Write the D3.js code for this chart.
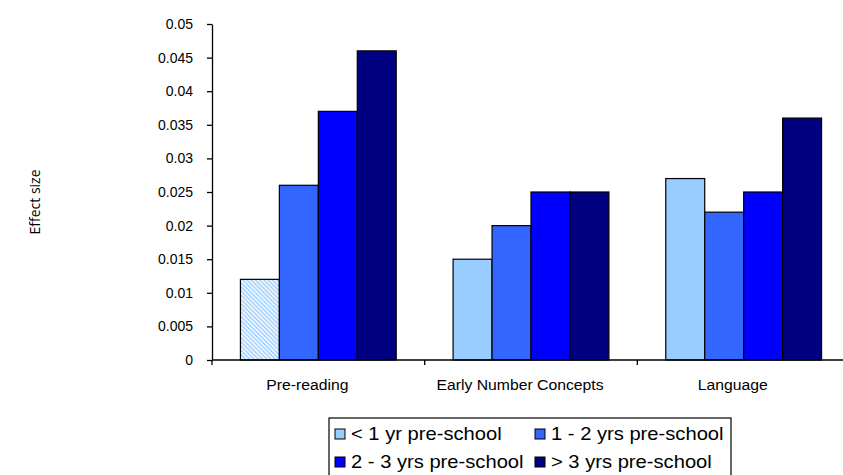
<!DOCTYPE html>
<html>
<head>
<meta charset="utf-8">
<script src="https://cdn.jsdelivr.net/npm/d3@7"></script>
<style>
  body { margin: 0; background: #fff; }
  svg { display: block; }
</style>
</head>
<body>
<script>
const categories = ["Pre-reading", "Early Number Concepts", "Language"];
const series = ["< 1 yr pre-school", "1 - 2 yrs pre-school", "2 - 3 yrs pre-school", "> 3 yrs pre-school"];
const colors = ["#99ccff", "#3366ff", "#0000ff", "#000080"];
// one row per category, one value per series
const values = [
  [0.012, 0.026, 0.037, 0.046],
  [0.015, 0.020, 0.025, 0.025],
  [0.027, 0.022, 0.025, 0.036]
];
// hatched bar (drawn with stripes instead of solid fill)
const hatched = [
  [true, false, false, false],
  [false, false, false, false],
  [false, false, false, false]
];

const width = 843, height = 475;
const mLeft = 212, mRight = 850, mTop = 24, mBottom = 360;

const svg = d3.select("body").append("svg")
    .attr("width", width)
    .attr("height", height)
    .style("font-family", "'Liberation Sans', Arial, sans-serif");

const defs = svg.append("defs");
const pat = defs.append("pattern")
    .attr("id", "hatch")
    .attr("patternUnits", "userSpaceOnUse")
    .attr("width", 3)
    .attr("height", 3)
    .attr("patternTransform", "rotate(-45)");
pat.append("rect").attr("width", 3).attr("height", 3).attr("fill", "#fff");
pat.append("rect").attr("width", 1.5).attr("height", 3).attr("fill", colors[0]);

const x0 = d3.scaleBand().domain(categories).range([mLeft, mRight]);
const x1 = d3.scaleBand().domain(series).range([0, x0.bandwidth()]).paddingOuter(0.73);
const y = d3.scaleLinear().domain([0, 0.05]).range([mBottom, mTop]);

// bars
const groups = svg.append("g")
  .selectAll("g")
  .data(categories)
  .join("g")
    .attr("transform", d => `translate(${x0(d)},0)`);

groups.selectAll("rect")
  .data((c, i) => series.map((s, j) => ({s, j, v: values[i][j], h: hatched[i][j]})))
  .join("rect")
    .attr("x", d => x1(d.s))
    .attr("y", d => y(d.v))
    .attr("width", x1.bandwidth())
    .attr("height", d => y(0) - y(d.v))
    .attr("fill", d => d.h ? "url(#hatch)" : colors[d.j])
    .attr("stroke", "#000")
    .attr("stroke-width", 1.2);

// y axis
const yAxis = svg.append("g")
    .attr("transform", `translate(${mLeft},0)`)
    .call(d3.axisLeft(y).ticks(10).tickSize(5).tickSizeOuter(0).tickPadding(14)
      .tickFormat(d => String(+d.toFixed(3))));
yAxis.select(".domain").attr("stroke", "#000").attr("stroke-width", 1.3);
yAxis.selectAll(".tick line").attr("stroke", "#000").attr("stroke-width", 1.3);
yAxis.selectAll(".tick text")
    .attr("fill", "#000")
    .style("font-size", "14px")
    .style("font-family", "'Liberation Sans', Arial, sans-serif");

// x axis
const xAxis = svg.append("g");
xAxis.append("line")
    .attr("x1", mLeft).attr("x2", width)
    .attr("y1", y(0)).attr("y2", y(0))
    .attr("stroke", "#000").attr("stroke-width", 1.3);
xAxis.selectAll(".xt")
  .data(categories.map(c => x0(c)).concat([mRight]))
  .join("line")
    .attr("class", "xt")
    .attr("x1", d => d).attr("x2", d => d)
    .attr("y1", y(0)).attr("y2", y(0) + 5)
    .attr("stroke", "#000").attr("stroke-width", 1.3);
xAxis.selectAll("text")
  .data(categories)
  .join("text")
    .attr("transform", d => `translate(${x0(d) + x0.bandwidth() / 2 - 11},${mBottom + 30}) scale(1.05,1)`)
    .attr("text-anchor", "middle")
    .style("font-size", "15px")
    .text(d => d);

// y label
svg.append("text")
    .attr("transform", `translate(40,${(mTop + mBottom) / 2 + 10}) rotate(-90)`)
    .attr("text-anchor", "middle")
    .style("font-family", "'Open Sans', sans-serif")
    .style("font-size", "14px")
    .text("Effect size");

// legend
const legend = svg.append("g");
legend.append("rect")
    .attr("x", 329).attr("y", 418)
    .attr("width", 402).attr("height", 70)
    .attr("fill", "#fff")
    .attr("stroke", "#000")
    .attr("stroke-width", 1.2);

const item = legend.selectAll(".item")
  .data(series)
  .join("g")
    .attr("class", "item")
    .attr("transform", (d, i) => `translate(${335 + (i % 2) * 200},${440 + Math.floor(i / 2) * 28})`);
item.append("rect")
    .attr("x", 0).attr("y", -11)
    .attr("width", 10).attr("height", 10)
    .attr("fill", (d, i) => colors[i])
    .attr("stroke", "#000")
    .attr("stroke-width", 1);
item.append("text")
    .attr("transform", "translate(16,0) scale(1.12,1)")
    .style("font-size", "18px")
    .text(d => d);
</script>
</body>
</html>
